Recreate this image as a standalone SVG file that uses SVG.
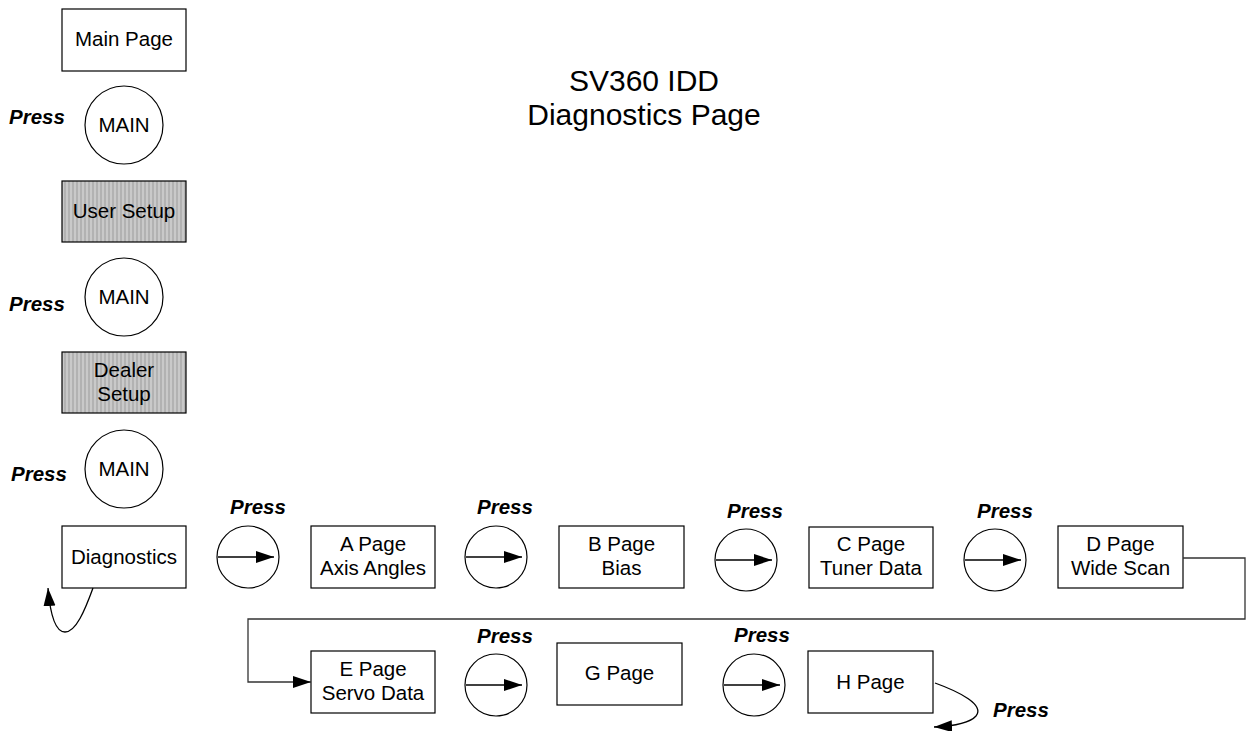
<svg xmlns="http://www.w3.org/2000/svg" width="1249" height="731" viewBox="0 0 1249 731">
<defs>
<pattern id="stripes" patternUnits="userSpaceOnUse" width="4" height="4">
<rect width="4" height="4" fill="#b2b2b2"/>
<rect x="2" width="2" height="4" fill="#c9c9c9"/>
</pattern>
<marker id="arr" markerUnits="userSpaceOnUse" markerWidth="20" markerHeight="14" refX="18" refY="6" orient="auto">
<path d="M0,0 L18,6 L0,12 Z" fill="#000"/>
</marker>
</defs>
<style>
.box{fill:#fff;stroke:#000;stroke-width:1.2}
.gray{fill:url(#stripes);stroke:#000;stroke-width:1.2}
.circ{fill:#fff;stroke:#000;stroke-width:1.2}
.t{font-family:"Liberation Sans",Arial,sans-serif;font-size:20.5px;fill:#000;text-anchor:middle}
.p{font-family:"Liberation Sans",Arial,sans-serif;font-size:20.5px;font-weight:bold;font-style:italic;fill:#000}
.title{font-family:"Liberation Sans",Arial,sans-serif;font-size:30px;fill:#000;text-anchor:middle}
.ln{fill:none;stroke:#000;stroke-width:1.3}
.cn{fill:none;stroke:#333;stroke-width:1.3}
</style>
<g id="title">
<text class="title" x="644" y="91">SV360 IDD</text>
<text class="title" x="644" y="125">Diagnostics Page</text>
</g>
<g id="main-page"><rect class="box" x="62" y="9" width="124" height="62"/><text class="t" x="124" y="46">Main Page</text></g>
<g id="main1"><circle class="circ" cx="124" cy="125" r="39"/><text class="t" x="124" y="132">MAIN</text><text class="p" x="9" y="124">Press</text></g>
<g id="user-setup"><rect class="gray" x="62" y="181" width="124" height="61"/><text class="t" x="124" y="218">User Setup</text></g>
<g id="main2"><circle class="circ" cx="124" cy="297" r="39"/><text class="t" x="124" y="304">MAIN</text><text class="p" x="9" y="311">Press</text></g>
<g id="dealer-setup"><rect class="gray" x="62" y="352" width="124" height="61"/><text class="t" x="124" y="377">Dealer</text><text class="t" x="124" y="401">Setup</text></g>
<g id="main3"><circle class="circ" cx="124" cy="469" r="39"/><text class="t" x="124" y="476">MAIN</text><text class="p" x="11" y="481">Press</text></g>
<g id="diagnostics"><rect class="box" x="62" y="526" width="124" height="62"/><text class="t" x="124" y="564">Diagnostics</text></g>
<g id="next1"><circle class="circ" cx="248" cy="557" r="31"/><line class="ln" x1="218" y1="557" x2="274" y2="557" marker-end="url(#arr)"/><text class="p" x="230" y="514">Press</text></g>
<g id="a-page"><rect class="box" x="311" y="526" width="124" height="62"/><text class="t" x="373" y="551">A Page</text><text class="t" x="373" y="575">Axis Angles</text></g>
<g id="next2"><circle class="circ" cx="496" cy="557" r="31"/><line class="ln" x1="466" y1="557" x2="522" y2="557" marker-end="url(#arr)"/><text class="p" x="477" y="514">Press</text></g>
<g id="b-page"><rect class="box" x="559" y="526" width="125" height="62"/><text class="t" x="621.5" y="551">B Page</text><text class="t" x="621.5" y="575">Bias</text></g>
<g id="next3"><circle class="circ" cx="746" cy="560" r="31"/><line class="ln" x1="716" y1="560" x2="772" y2="560" marker-end="url(#arr)"/><text class="p" x="727" y="518">Press</text></g>
<g id="c-page"><rect class="box" x="809" y="527" width="124" height="61"/><text class="t" x="871" y="551">C Page</text><text class="t" x="871" y="575">Tuner Data</text></g>
<g id="next4"><circle class="circ" cx="995" cy="560" r="31"/><line class="ln" x1="965" y1="560" x2="1021" y2="560" marker-end="url(#arr)"/><text class="p" x="977" y="518">Press</text></g>
<g id="d-page"><rect class="box" x="1058" y="526" width="125" height="62"/><text class="t" x="1120.5" y="551">D Page</text><text class="t" x="1120.5" y="575">Wide Scan</text></g>
<g id="e-page"><rect class="box" x="311" y="651" width="124" height="62"/><text class="t" x="373" y="676">E Page</text><text class="t" x="373" y="700">Servo Data</text></g>
<g id="next5"><circle class="circ" cx="496" cy="685" r="31"/><line class="ln" x1="466" y1="685" x2="522" y2="685" marker-end="url(#arr)"/><text class="p" x="477" y="643">Press</text></g>
<g id="g-page"><rect class="box" x="557" y="643" width="125" height="62"/><text class="t" x="619.5" y="680">G Page</text></g>
<g id="next6"><circle class="circ" cx="754" cy="685" r="31"/><line class="ln" x1="724" y1="685" x2="780" y2="685" marker-end="url(#arr)"/><text class="p" x="734" y="642">Press</text></g>
<g id="h-page"><rect class="box" x="808" y="651" width="125" height="62"/><text class="t" x="870.5" y="689">H Page</text></g>
<g id="h-press"><text class="p" x="993" y="717">Press</text></g>
<g id="connectors">
<polyline class="cn" points="1183,558 1245,558 1245,619 248,619 248,682 311,682" marker-end="url(#arr)"/>
<path class="ln" d="M93,588 C85,610 76,632 65,632 C55,632 50,612 48,588" marker-end="url(#arr)"/>
<path class="ln" d="M935,683 C960,692 985,705 976,716 C970,723 955,726 934,727" marker-end="url(#arr)"/>
</g>
</svg>
